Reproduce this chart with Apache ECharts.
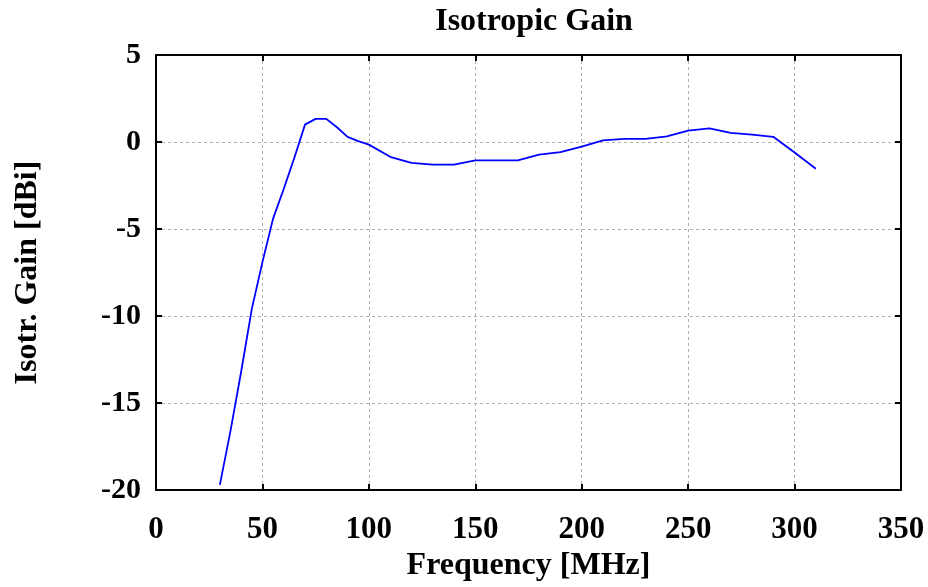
<!DOCTYPE html>
<html>
<head>
<meta charset="utf-8">
<script src="https://cdn.jsdelivr.net/npm/echarts@6/dist/echarts.min.js"></script>
<style>
html,body{margin:0;padding:0;background:#fff;}
#c{width:928px;height:587px;}
</style>
</head>
<body>
<div id="c"></div>
<script>
var freq = [30,35,40,45,50,55,60,65,70,75,80,85,90,95,100,110,120,130,140,150,160,170,180,190,200,210,220,230,240,250,260,270,280,290,300,310];
var gain = [-19.7,-16.6,-13.2,-9.6,-6.9,-4.4,-2.7,-0.9,1.0,1.33,1.33,0.85,0.3,0.05,-0.15,-0.85,-1.2,-1.3,-1.3,-1.05,-1.05,-1.05,-0.73,-0.58,-0.26,0.09,0.18,0.18,0.32,0.66,0.78,0.53,0.42,0.3,-0.6,-1.54];
var xTicks = [0,50,100,150,200,250,300,350];
var yTicks = [-20,-15,-10,-5,0,5];

var FONT = '"Liberation Serif","Times New Roman",serif';
var chart = echarts.init(document.getElementById('c'), null, {renderer:'canvas'});
var data = freq.map(function(f,i){return [f,gain[i]];});
var gridLine = {show:true, lineStyle:{color:'#b0b0b0', type:[3,3], width:1}};
var boxLine = {show:true, onZero:false, lineStyle:{color:'#000', width:2}};
var tick = {show:true, inside:true, length:6, lineStyle:{color:'#000', width:2}};
chart.setOption({
  animation:false,
  backgroundColor:'#fff',
  title:{text:'Isotropic Gain', left:529, top:1, textAlign:'center',
    textStyle:{fontFamily:FONT, fontWeight:'bold', fontSize:32, color:'#000'}},
  grid:{left:156, right:27, top:55, bottom:96, containLabel:false},
  xAxis:[{
    type:'value', min:0, max:350, interval:50, position:'bottom',
    name:'Frequency [MHz]', nameLocation:'middle', nameGap:54,
    nameTextStyle:{fontFamily:FONT, fontWeight:'bold', fontSize:32, color:'#000'},
    axisLine:boxLine, axisTick:tick, splitLine:gridLine,
    axisLabel:{margin:24, fontFamily:FONT, fontWeight:'bold', fontSize:31, color:'#000'}
  },{
    type:'value', min:0, max:350, interval:50, position:'top',
    axisLine:boxLine, axisTick:tick, splitLine:{show:false}, axisLabel:{show:false}
  }],
  yAxis:[{
    type:'value', min:-20, max:5, interval:5, position:'left',
    name:'Isotr. Gain [dBi]', nameLocation:'middle', nameGap:112,
    nameTextStyle:{fontFamily:FONT, fontWeight:'bold', fontSize:32, color:'#000'},
    axisLine:boxLine, axisTick:tick, splitLine:gridLine,
    axisLabel:{margin:15, fontFamily:FONT, fontWeight:'bold', fontSize:30, color:'#000'}
  },{
    type:'value', min:-20, max:5, interval:5, position:'right',
    axisLine:boxLine, axisTick:tick, splitLine:{show:false}, axisLabel:{show:false}
  }],
  series:[{
    type:'line', data:data, xAxisIndex:0, yAxisIndex:0,
    showSymbol:false, symbol:'none',
    lineStyle:{color:'#0000ff', width:1.8}
  }]
});
</script>
</body>
</html>
